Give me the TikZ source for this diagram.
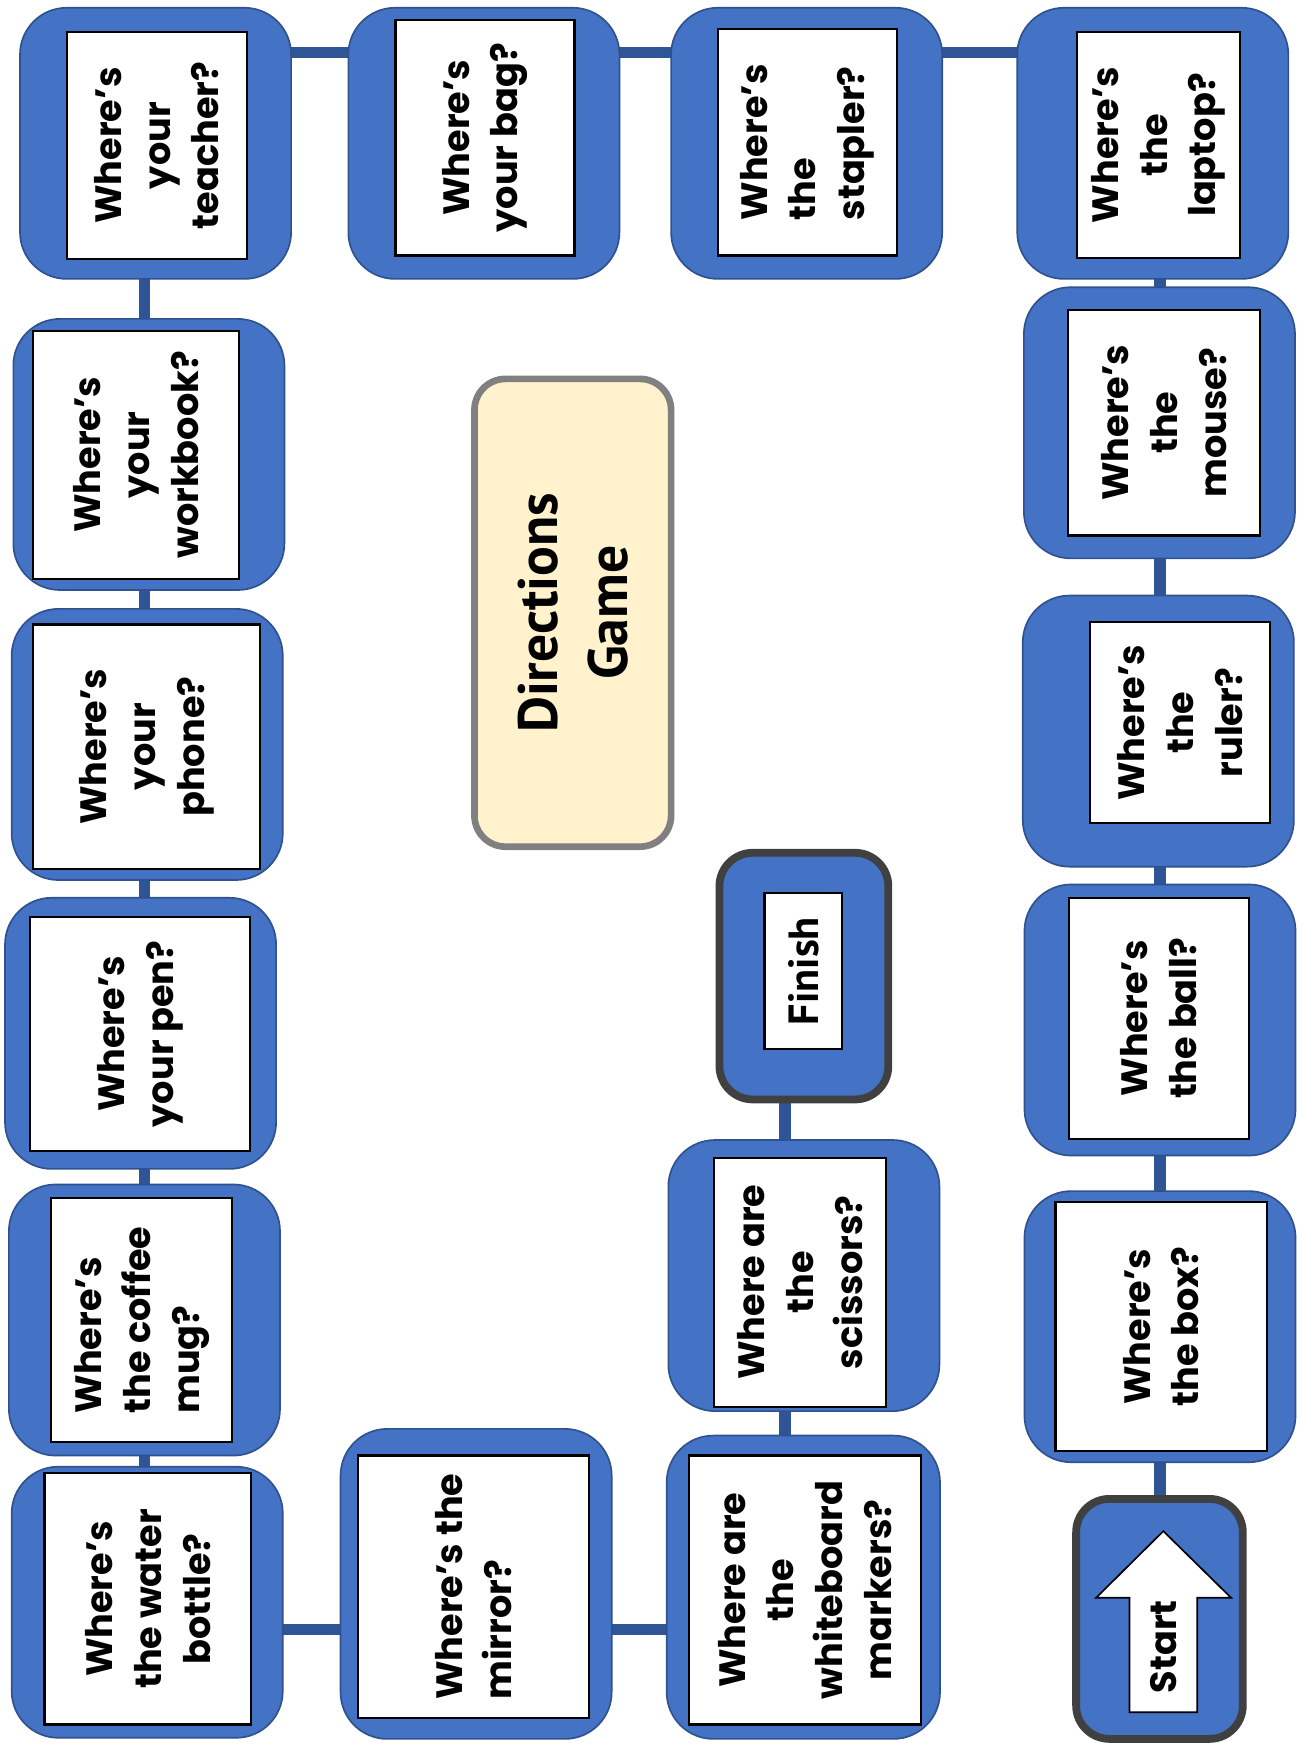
\documentclass[tikz,border=0pt]{standalone}
\usepackage{fontspec}
\newfontfamily\boardfont{Poppins}
\newfontfamily\titlefont{PT Sans}
\usepackage{tikz}
\usetikzlibrary{backgrounds}
\definecolor{tileblue}{HTML}{4472C4}
\definecolor{tileedge}{HTML}{2F528F}
\definecolor{linkblue}{HTML}{2F5597}
\definecolor{endedge}{HTML}{404040}
\definecolor{titlefill}{HTML}{FFF2CC}
\definecolor{titleedge}{HTML}{808080}

\begin{document}
\begin{tikzpicture}[
      x=1pt,y=-1pt,
      board tile/.style={draw=tileedge,fill=tileblue,line width=1.5pt,rounded corners=42pt,minimum width=244pt,minimum height=244pt},
      end tile/.style={board tile,draw=endedge,line width=7pt,rounded corners=30pt},
      question card/.style={draw=black,fill=white,line width=2pt,rotate=90,inner sep=0pt,align=center,
        font=\boardfont\bfseries\fontsize{33}{44}\selectfont},
      board link/.style={draw=linkblue,line width=10pt}
      ]
    \useasboundingbox (0,0) rectangle (1172.7,1568.7);
    % outer tiles, top row then right, left and middle
    \node[board tile] (teacher) at (140,129) {};
    \node[board tile] (bag) at (435.5,129) {};
    \node[board tile] (stapler) at (726,129) {};
    \node[board tile] (laptop) at (1037.5,129) {};
    \node[board tile] (mouse) at (1043.5,380.5) {};
    \node[board tile] (ruler) at (1042.5,658) {};
    \node[board tile] (ball) at (1044,918) {};
    \node[board tile] (box) at (1044,1194) {};
    \node[end tile,minimum width=150pt,minimum height=216pt] (start) at (1043.5,1457) {};
    \node[board tile] (workbook) at (134,409) {};
    \node[board tile] (phone) at (132.5,670) {};
    \node[board tile] (pen) at (126.5,930) {};
    \node[board tile] (mug) at (130,1188) {};
    \node[board tile] (bottle) at (132.5,1442) {};
    \node[board tile,minimum height=279pt] (mirror) at (428.5,1425.5) {};
    \node[board tile,minimum width=246pt,minimum height=273pt] (markers) at (723,1428.5) {};
    \node[board tile] (scissors) at (723.5,1148) {};
    \node[end tile,minimum width=152pt,minimum height=222pt] (finish) at (723.5,878.5) {};

    \coordinate (top rail) at ([yshift=-41pt]teacher.north);
    \coordinate (bottom rail) at ([yshift=98pt]bottle.south);
    \coordinate (inner rail) at ([xshift=-17pt]finish.center);
    \begin{scope}[on background layer]
      \draw[board link] (top rail) -- (top rail -| laptop);
      \draw[board link] (mug |- teacher) -- (mug |- bottle);
      \draw[board link] (ball |- laptop) -- (ball |- start);
      \draw[board link] (bottom rail) -- (bottom rail -| markers);
      \draw[board link] (inner rail) -- (inner rail |- markers);
    \end{scope}

    % question cards (rotated, so width is the vertical side)
    \node[question card,minimum width=204pt,minimum height=162pt] (teacher card) at (141,131) {Where’s\\your\\teacher?};
    \node[question card,minimum width=212pt,minimum height=161pt] (bag card) at (436.5,124) {Where’s\\your bag?};
    \node[question card,minimum width=204pt,minimum height=161pt,align=left] (stapler card) at (726.5,128) {Where’s\\the\\stapler?};
    \node[question card,minimum width=203pt,minimum height=147pt] (laptop card) at (1042.5,130.5) {Where’s\\the\\laptop?};
    \node[question card,minimum width=203pt,minimum height=173pt] (mouse card) at (1047.5,380.5) {Where’s\\the\\mouse?};
    \node[question card,minimum width=181pt,minimum height=162pt] (ruler card) at (1062,650.5) {Where’s\\the\\ruler?};
    \node[question card,minimum width=217pt,minimum height=162pt] (ball card) at (1043,916.5) {Where’s\\the ball?};
    \node[question card,minimum width=224pt,minimum height=190pt] (box card) at (1045,1194) {Where’s\\the box?};
    \node[question card,minimum width=223pt,minimum height=185pt] (workbook card) at (122.5,409.3) {Where’s\\your\\workbook?};
    \node[question card,minimum width=220pt,minimum height=204pt] (phone card) at (132,672) {Where’s\\your\\phone?};
    \node[question card,minimum width=211pt,minimum height=198pt] (pen card) at (126,930.5) {Where’s\\your pen?};
    \node[question card,minimum width=220pt,minimum height=163pt,align=left] (mug card) at (127.5,1188) {Where’s\\the coffee\\mug?};
    \node[question card,minimum width=226pt,minimum height=186pt] (bottle card) at (133,1439) {Where’s\\the water\\bottle?};
    \node[question card,minimum width=236pt,minimum height=208pt,align=left] (mirror card) at (426,1428) {Where’s the\\mirror?};
    \node[question card,minimum width=242pt,minimum height=209pt] (markers card) at (724.5,1431) {Where are\\the\\whiteboard\\markers?};
    \node[question card,minimum width=224pt,minimum height=155pt] (scissors card) at (720,1154) {Where are\\the\\scissors?};
    \node[question card,minimum width=140pt,minimum height=70pt,font=\titlefont\bfseries\fontsize{38}{44}\selectfont] (finish card) at (723,874) {Finish};

    % start arrow
    \draw[fill=white,line width=1.5pt,line join=miter] (1047,1378) -- (1108,1438) -- (1077.5,1438) -- (1077.5,1541)
      -- (1016.5,1541) -- (1016.5,1438) -- (986.5,1438) -- cycle;
    \node[rotate=90,font=\boardfont\bfseries\fontsize{33}{40}\selectfont] (start label) at (1047,1482) {Start};

    \node[draw=titleedge,fill=titlefill,line width=6pt,rounded corners=28pt,rotate=90,minimum width=421pt,minimum height=177pt,
      align=center,font=\titlefont\bfseries\fontsize{50}{63}\selectfont] (title) at (515.5,551.5) {Directions\\Game};
\end{tikzpicture}
\end{document}
